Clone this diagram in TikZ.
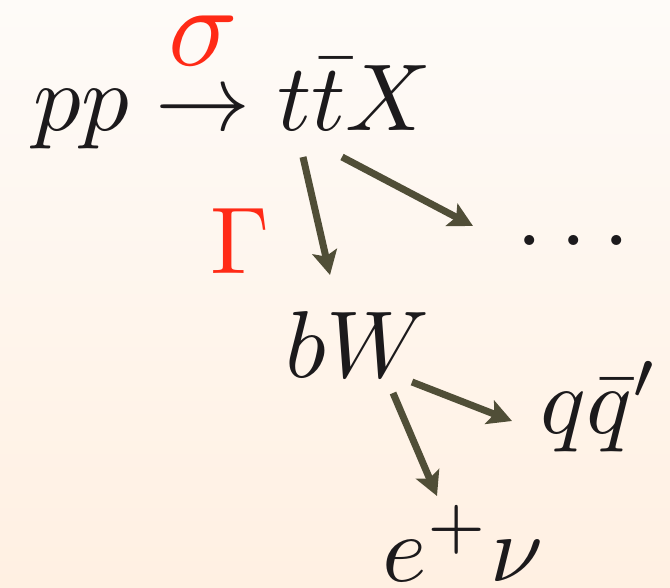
\documentclass[tikz,border=0pt]{standalone}
\usetikzlibrary{arrows.meta}
\definecolor{bgtop}{RGB}{254,251,248}
\definecolor{bgbot}{RGB}{255,240,226}
\definecolor{arrcol}{RGB}{80,78,55}
\definecolor{redlab}{RGB}{255,42,22}
\definecolor{inkcol}{RGB}{28,26,28}
\begin{document}
\begin{tikzpicture}[x=1pt,y=-1pt,
  lbl/.style={inner sep=0pt, anchor=base west, text=inkcol, scale=9.5},
  redl/.style={lbl, text=redlab},
  arr/.style={draw=arrcol, line width=7pt, -{Stealth[length=24pt,width=25pt,inset=5pt]}}]
\useasboundingbox (0,0) rectangle (670,587);
\shade[top color=bgtop, bottom color=bgbot] (0,0) rectangle (670,587);
\node[lbl] (prod) at (32,130) {$pp \to t\bar tX$};
\node[redl, scale=11.5/9.5] (sigma) at (166,65) {$\sigma$};
\node[redl] (gamma) at (209,273) {$\Gamma$};
\node[lbl] (bw) at (284,377) {$bW$};
\node[lbl] (dots) at (515,245) {$.\kern0.18em.\kern0.18em.$};
\node[lbl] (qq) at (539,433) {$q\bar q'$};
\node[lbl] (enu) at (381,581) {$e^+\nu$};
\coordinate (a1s) at (303,157);
\coordinate (a1e) at (330,275);
\coordinate (a2s) at (342,157);
\coordinate (a2e) at (473,226);
\coordinate (a3s) at (393,393);
\coordinate (a3e) at (437,496);
\coordinate (a4s) at (412,382);
\coordinate (a4e) at (512,421);
\draw[arr] (a1s) -- (a1e);
\draw[arr] (a2s) -- (a2e);
\draw[arr] (a3s) -- (a3e);
\draw[arr] (a4s) -- (a4e);
\end{tikzpicture}
\end{document}
